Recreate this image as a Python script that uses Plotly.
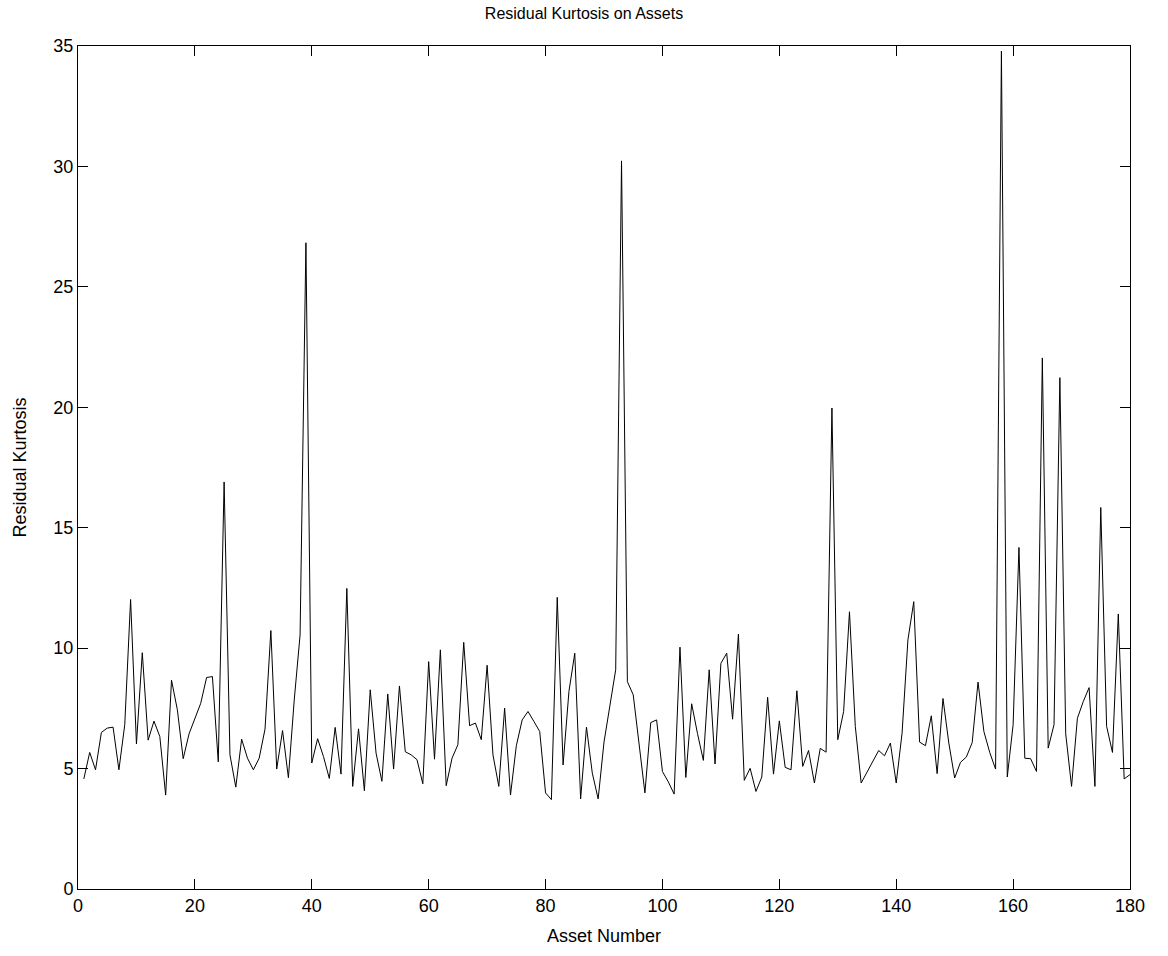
import plotly.graph_objects as go

asset_number = list(range(1, 181))
residual_kurtosis = [
    4.57, 5.67, 4.95, 6.50, 6.68, 6.72, 4.95, 6.82, 12.02, 6.02,
    9.81, 6.18, 6.97, 6.33, 3.90, 8.67, 7.44, 5.41, 6.44, 7.09,
    7.71, 8.78, 8.82, 5.28, 16.90, 5.57, 4.23, 6.22, 5.43, 4.95,
    5.43, 6.64, 10.73, 4.98, 6.58, 4.62, 7.85, 10.55, 26.83, 5.23,
    6.24, 5.50, 4.59, 6.71, 4.77, 12.48, 4.26, 6.65, 4.08, 8.27,
    5.64, 4.47, 8.10, 4.98, 8.43, 5.70, 5.57, 5.37, 4.37, 9.44,
    5.39, 9.93, 4.29, 5.43, 5.99, 10.24, 6.78, 6.89, 6.20, 9.29,
    5.57, 4.26, 7.51, 3.90, 5.95, 7.02, 7.37, 6.96, 6.54, 3.99,
    3.71, 12.11, 5.15, 8.20, 9.79, 3.74, 6.72, 4.81, 3.74, 6.10,
    7.60, 9.10, 30.23, 8.61, 8.06, 6.00, 3.99, 6.91, 7.02, 4.88,
    4.45, 3.94, 10.04, 4.63, 7.69, 6.45, 5.34, 9.10, 5.19, 9.37,
    9.79, 7.05, 10.58, 4.51, 5.01, 4.05, 4.65, 7.96, 4.77, 6.98,
    5.05, 4.95, 8.23, 5.09, 5.75, 4.40, 5.84, 5.68, 19.97, 6.20,
    7.37, 11.51, 6.75, 4.40, 4.84, 5.30, 5.75, 5.53, 6.06, 4.40,
    6.47, 10.34, 11.93, 6.10, 5.95, 7.19, 4.79, 7.91, 6.06, 4.61,
    5.26, 5.48, 6.08, 8.59, 6.54, 5.67, 4.98, 34.79, 4.65, 6.82,
    14.18, 5.43, 5.41, 4.88, 22.05, 5.85, 6.82, 21.23, 6.44, 4.26,
    7.09, 7.78, 8.36, 4.26, 15.84, 6.75, 5.67, 11.42, 4.57, 4.75,
]

x_ticks = [0, 20, 40, 60, 80, 100, 120, 140, 160, 180]
y_ticks = [0, 5, 10, 15, 20, 25, 30, 35]

fig = go.Figure(
    go.Scatter(
        x=asset_number,
        y=residual_kurtosis,
        mode="lines",
        line=dict(color="black", width=1),
        hoverinfo="x+y",
    )
)

font_family = "Liberation Sans, Arial, Helvetica, sans-serif"

axis_common = dict(
    showgrid=False,
    zeroline=False,
    showline=True,
    linecolor="black",
    linewidth=1,
    mirror="allticks",
    ticks="inside",
    ticklen=10,
    tickwidth=1,
    tickcolor="black",
    tickfont=dict(family=font_family, size=18, color="black"),
)

fig.update_layout(
    width=1168,
    height=956,
    paper_bgcolor="white",
    plot_bgcolor="white",
    margin=dict(l=78, r=38, t=46, b=67),
    showlegend=False,
    title=dict(
        text="Residual Kurtosis on Assets",
        x=0.5,
        xanchor="center",
        y=1 - 13 / 956,
        yanchor="middle",
        font=dict(family=font_family, size=16, color="black"),
    ),
    xaxis=dict(
        range=[0, 180],
        tickvals=x_ticks,
        title=dict(text="Asset Number", font=dict(family=font_family, size=18, color="black"), standoff=14),
        **axis_common,
    ),
    yaxis=dict(
        range=[0, 35],
        tickvals=y_ticks,
        title=dict(text="Residual Kurtosis", font=dict(family=font_family, size=18, color="black"), standoff=22),
        **axis_common,
    ),
)

fig.write_html("out.html")
